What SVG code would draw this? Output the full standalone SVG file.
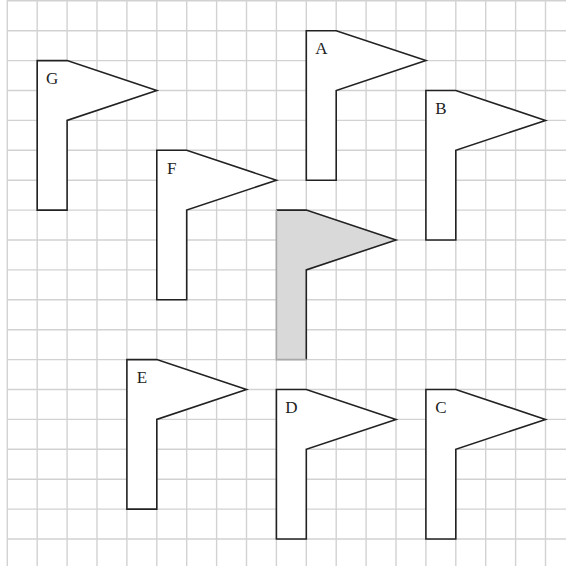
<svg xmlns="http://www.w3.org/2000/svg" width="566" height="566" viewBox="0 0 566 566">
<style>
.grid{stroke:#d2d2d2;stroke-width:1.4;fill:none}
.flag{fill:#ffffff;stroke:#222222;stroke-width:1.6;stroke-linejoin:miter}
.lbl{font-family:"Liberation Serif","Times New Roman",serif;font-size:17px;fill:#222222;text-anchor:middle}
</style>
<rect x="0" y="0" width="566" height="566" fill="#ffffff"/>
<g id="grid">
<path class="grid" d="M7.3 0V566M37.2 0V566M67.1 0V566M97 0V566M126.9 0V566M156.8 0V566M186.7 0V566M216.6 0V566M246.5 0V566M276.4 0V566M306.3 0V566M336.2 0V566M366.1 0V566M396 0V566M425.9 0V566M455.8 0V566M485.7 0V566M515.6 0V566M545.5 0V566"/>
<path class="grid" d="M7.3 0.8H566M7.3 30.7H566M7.3 60.6H566M7.3 90.5H566M7.3 120.4H566M7.3 150.3H566M7.3 180.2H566M7.3 210.1H566M7.3 240H566M7.3 269.9H566M7.3 299.8H566M7.3 329.7H566M7.3 359.6H566M7.3 389.5H566M7.3 419.4H566M7.3 449.3H566M7.3 479.2H566M7.3 509.1H566M7.3 539H566"/>
</g>
<g id="G">
<polygon class="flag" points="37.2,60.6 67.1,60.6 156.8,90.5 67.1,120.4 67.1,210.1 37.2,210.1"/>
<text class="lbl" x="52.2" y="83.5">G</text>
</g>
<g id="A">
<polygon class="flag" points="306.3,30.7 336.2,30.7 425.9,60.6 336.2,90.5 336.2,180.2 306.3,180.2"/>
<text class="lbl" x="321.3" y="53.5">A</text>
</g>
<g id="B">
<polygon class="flag" points="425.9,90.5 455.8,90.5 545.5,120.4 455.8,150.3 455.8,240 425.9,240"/>
<text class="lbl" x="440.9" y="113.5">B</text>
</g>
<g id="F">
<polygon class="flag" points="156.8,150.3 186.7,150.3 276.4,180.2 186.7,210.1 186.7,299.8 156.8,299.8"/>
<text class="lbl" x="171.8" y="173.5">F</text>
</g>
<g id="shaded">
<polygon points="276.4,210.1 306.3,210.1 396,240 306.3,269.9 306.3,359.6 276.4,359.6" fill="#d9d9d9" stroke="none"/>
<polyline points="276.4,210.1 306.3,210.1 396,240 306.3,269.9 306.3,359.6" fill="none" stroke="#222222" stroke-width="1.6"/>
<polyline points="306.3,359.6 276.4,359.6 276.4,210.1" fill="none" stroke="#a8a8a8" stroke-width="1.6"/>
</g>
<g id="E">
<polygon class="flag" points="126.9,359.6 156.8,359.6 246.5,389.5 156.8,419.4 156.8,509.1 126.9,509.1"/>
<text class="lbl" x="141.9" y="382.5">E</text>
</g>
<g id="D">
<polygon class="flag" points="276.4,389.5 306.3,389.5 396,419.4 306.3,449.3 306.3,539 276.4,539"/>
<text class="lbl" x="291.4" y="412.5">D</text>
</g>
<g id="C">
<polygon class="flag" points="425.9,389.5 455.8,389.5 545.5,419.4 455.8,449.3 455.8,539 425.9,539"/>
<text class="lbl" x="440.9" y="412.5">C</text>
</g>
<g id="connectors"/>
</svg>
